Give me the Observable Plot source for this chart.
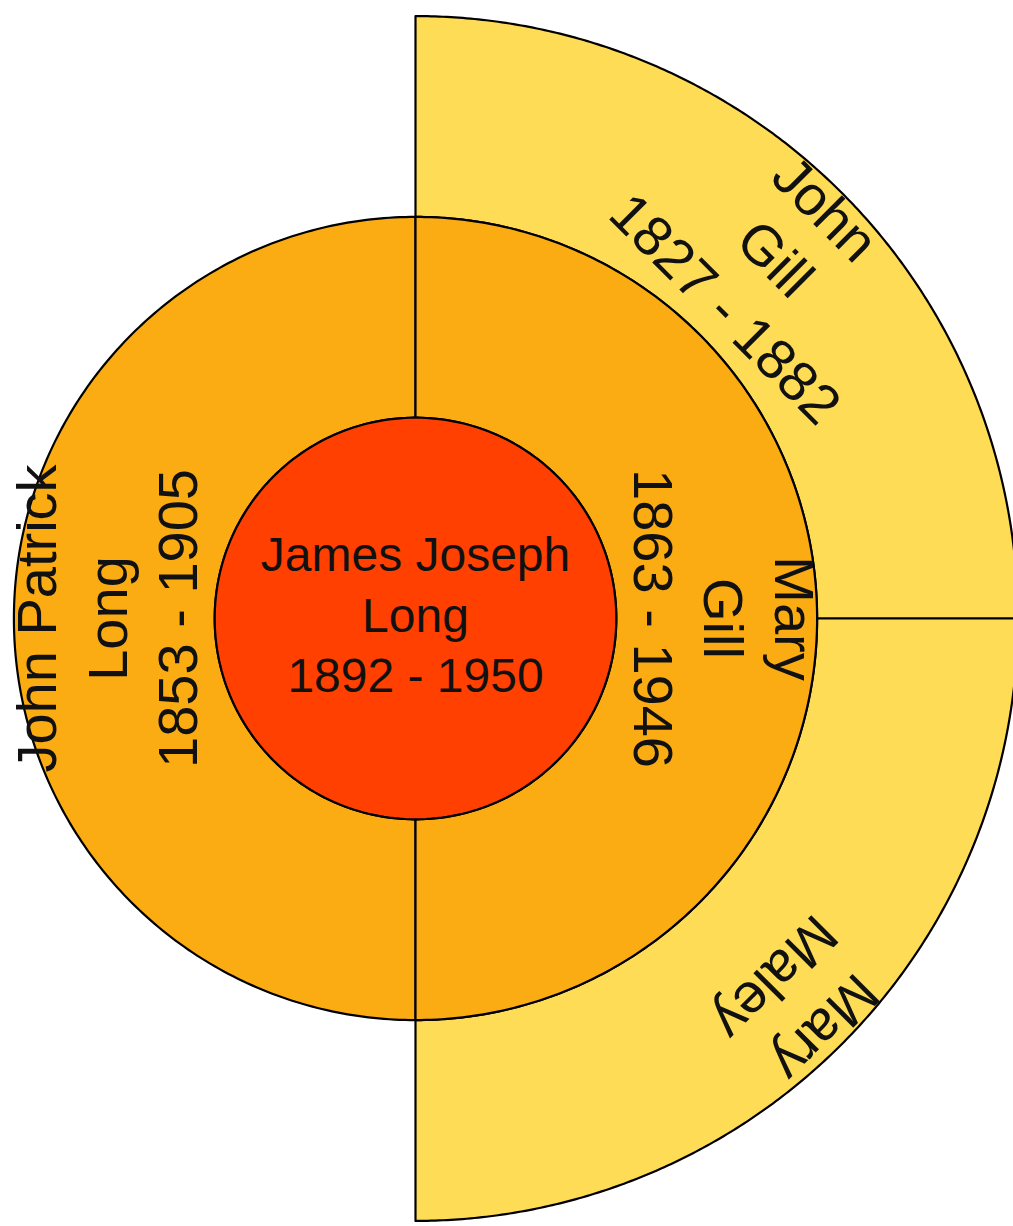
<!DOCTYPE html>
<html>
<head>
<meta charset="utf-8">
<script src="https://cdn.jsdelivr.net/npm/d3@7"></script>
<script src="https://cdn.jsdelivr.net/npm/@observablehq/plot@0.6"></script>
<style>
  html, body { margin: 0; padding: 0; overflow: hidden; background: white; }
  #chart svg { display: block; }
</style>
</head>
<body>
<div id="chart"></div>
<script>
// ---- data ----
const names = ["James Joseph\nLong\n1892 - 1950", "John Patrick\nLong\n1853 - 1905", "Mary\nGill\n1863 - 1946", "John\nGill\n1827 - 1882", "Mary\nMaley"];
const generations = [0, 1, 1, 2, 2];
const slots = [0, 0, 1, 2, 3];
const ringColors = ["#ff4000", "#fcac13", "#ffdc56"];
const fontSizes = [48, 56, 56];

// ---- layout ----
const W = 1013, H = 1226;
const U = 200.8;           // pixels per generation ring
const CX = 415, CY = 618;  // centre in pixels

const people = names.map((name, i) => {
  const g = generations[i];
  const span = 360 / Math.pow(2, g);
  const a0 = g === 0 ? 0 : 180 + slots[i] * span;
  const a1 = g === 0 ? 360 : a0 + span;
  return {id: i, name, gen: g, a0, a1, color: ringColors[g], size: fontSizes[g]};
});

const rad = d => d * Math.PI / 180;
const pt = (r, a) => [r * Math.sin(rad(a)), r * Math.cos(rad(a))];

// wedge outlines (in data units: radius = generation ring)
const outline = [];
for (const p of people) {
  const n = 240;
  if (p.gen === 0) {
    for (let k = 0; k < n; k++) {
      const [x, y] = pt(1, p.a0 + (p.a1 - p.a0) * k / n);
      outline.push({id: p.id, gen: p.gen, color: p.color, x, y});
    }
  } else {
    const rIn = p.gen, rOut = p.gen + 1;
    for (let k = 0; k <= n; k++) {
      const [x, y] = pt(rOut, p.a0 + (p.a1 - p.a0) * k / n);
      outline.push({id: p.id, gen: p.gen, color: p.color, x, y});
    }
    for (let k = n; k >= 0; k--) {
      const [x, y] = pt(rIn, p.a0 + (p.a1 - p.a0) * k / n);
      outline.push({id: p.id, gen: p.gen, color: p.color, x, y});
    }
  }
}
// draw outer generations first
outline.sort((a, b) => b.gen - a.gen);

// label anchors
const labels = people.map(p => {
  if (p.gen === 0) return {...p, x: 0, y: 6 / U, rotate: 0, anchor: "middle"};
  const mid = (p.a0 + p.a1) / 2;
  const [x, y] = pt(p.gen + 1 + 8 / U, mid);
  const rot = ((mid + 180) % 360) - 180;
  return {...p, x, y, rotate: rot, anchor: "top"};
});

const textMark = (data, anchor) => Plot.text(data, {
  x: "x", y: "y", text: "name", rotate: "rotate",
  fontSize: d => d.size,
  lineAnchor: anchor, lineHeight: 1.26,
  fill: "#111", fontFamily: "Liberation Sans, Arial, sans-serif"
});

const chart = Plot.plot({
  width: W, height: H,
  marginTop: 0, marginRight: 0, marginBottom: 0, marginLeft: 0,
  x: {domain: [-CX / U, (W - CX) / U], range: [0, W], axis: null},
  y: {domain: [-(H - CY) / U, CY / U], range: [H, 0], axis: null},
  color: {type: "identity"},
  style: {fontFamily: "Liberation Sans, Arial, sans-serif", background: "white"},
  marks: [
    Plot.line(outline, {
      x: "x", y: "y", z: "id", fill: "color", stroke: "black",
      strokeWidth: 2.2, curve: "linear-closed", clip: true
    }),
    textMark(labels.filter(d => d.anchor === "middle"), "middle"),
    textMark(labels.filter(d => d.anchor === "top"), "top")
  ]
});
document.getElementById("chart").appendChild(chart);
</script>
</body>
</html>
